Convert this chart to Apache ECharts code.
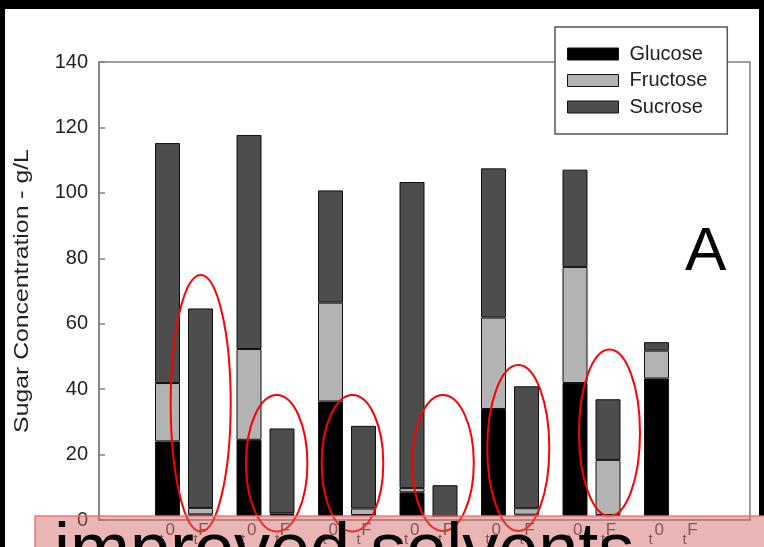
<!DOCTYPE html>
<html>
<head>
<meta charset="utf-8">
<script src="https://cdn.jsdelivr.net/npm/echarts@6/dist/echarts.min.js"></script>
<style>
  html, body { margin: 0; padding: 0; background: #fff; }
  #chart { width: 764px; height: 547px; }
</style>
</head>
<body>
<div id="chart"></div>
<script>
// Sugar composition of each sample, before (t0) and after (tF) treatment, in g/L
const samples = ['1', '2', '3', '4', '5', '6', '7'];
const stageLabels = ['t0', 'tF'];
const sugarNames = ['Glucose', 'Fructose', 'Sucrose'];

const glucoseT0  = [23.0, 23.5, 35.3, 7.3, 33.0, 41.0, 42.4];
const fructoseT0 = [18.0, 28.0, 30.5, 1.3, 28.2, 35.8, 8.6];
const sucroseT0  = [74.0, 66.0, 34.6, 94.4, 46.0, 30.0, 2.6];

const glucoseTF  = [0.5, 0.3, 0.3, 0, 0.4, 0.3, '-'];
const fructoseTF = [2.0, 0.5, 2.0, 0, 2.0, 17.0, '-'];
const sucroseTF  = [61.5, 26.2, 25.5, 9.5, 37.6, 18.7, '-'];

const yTicks = { min: 0, max: 140, step: 20 };

const sugarColors = { Glucose: '#000000', Fructose: '#b3b3b3', Sucrose: '#4d4d4d' };
const frameColor = '#808080';
const textFont = "'Liberation Sans', Arial, sans-serif";

function stackBar(name, stack, data) {
  return {
    name: name,
    type: 'bar',
    xAxisIndex: 1,
    yAxisIndex: 1,
    stack: stack,
    data: data,
    barWidth: 25,
    barGap: '32%',
    itemStyle: { color: sugarColors[name], borderColor: '#111', borderWidth: 1 },
    emphasis: { disabled: true }
  };
}

// "t" followed by a raised stage letter, one pair per sample
function stageFormatter() {
  return stageLabels.map(s => '{t|' + s.charAt(0) + '}{n|' + s.slice(1) + '}').join('{g|}');
}

const chart = echarts.init(document.getElementById('chart'), null, { renderer: 'canvas' });

const option = {
  animation: false,
  backgroundColor: '#ffffff',
  grid: [
    { left: 99, right: 14, top: 62, bottom: 27, show: true,
      borderColor: frameColor, borderWidth: 1.5, backgroundColor: 'transparent' },
    { left: 143.25, right: 50.25, top: 62, bottom: 27 }
  ],
  xAxis: [
    { gridIndex: 0, type: 'value', min: 0, max: 1, show: false },
    { gridIndex: 1, type: 'category', data: samples,
      axisLine: { show: false }, axisTick: { show: false },
      axisLabel: {
        interval: 0, margin: 6, color: '#444',
        formatter: stageFormatter,
        rich: {
          t: { fontSize: 15, fontFamily: textFont, color: '#444', width: 6, align: 'left', verticalAlign: 'bottom' },
          n: { fontSize: 17, fontFamily: textFont, color: '#444', width: 10, align: 'left', padding: [0, 0, 8, 0] },
          g: { width: 17 }
        }
      } }
  ],
  yAxis: [
    { gridIndex: 0, type: 'value', min: yTicks.min, max: yTicks.max, interval: yTicks.step,
      axisLine: { show: true, lineStyle: { color: frameColor, width: 1.5 } },
      axisTick: { show: true, inside: true, length: 6, lineStyle: { color: frameColor, width: 1.5 } },
      splitLine: { show: false },
      axisLabel: { fontSize: 20, color: '#222', margin: 11, fontFamily: textFont } },
    { gridIndex: 1, type: 'value', min: yTicks.min, max: yTicks.max, show: false }
  ],
  legend: {
    left: 555, top: 27, orient: 'vertical',
    data: sugarNames,
    icon: 'rect',
    itemWidth: 51, itemHeight: 12, itemGap: 6.5,
    backgroundColor: '#ffffff', borderColor: '#555', borderWidth: 1.5,
    padding: [17, 20, 17, 12],
    selectedMode: false,
    itemStyle: { borderColor: '#111', borderWidth: 1 },
    textStyle: { fontSize: 20, color: '#222', fontFamily: textFont, padding: [0, 0, 0, 6] }
  },
  series: [
    stackBar('Glucose', 't0', glucoseT0),
    stackBar('Fructose', 't0', fructoseT0),
    stackBar('Sucrose', 't0', sucroseT0),
    stackBar('Glucose', 'tF', glucoseTF),
    stackBar('Fructose', 'tF', fructoseTF),
    stackBar('Sucrose', 'tF', sucroseTF)
  ],
  graphic: [
    // axis title
    { type: 'text', x: 22, y: 291, rotation: Math.PI / 2, scaleX: 1.18, z: 5,
      style: { text: 'Sugar Concentration - g/L', font: '21px ' + textFont, fill: '#222',
               align: 'center', verticalAlign: 'middle' } },
    // panel letter
    { type: 'text', x: 685, y: 222, z: 5,
      style: { text: 'A', font: '62px ' + textFont, fill: '#000', align: 'left', verticalAlign: 'top' } },
    // red rings around the treated samples
    { type: 'ellipse', z: 10, shape: { cx: 200.7, cy: 403.3, rx: 30, ry: 128.3 },
      style: { fill: 'none', stroke: '#ff0000', lineWidth: 2 } },
    { type: 'ellipse', z: 10, shape: { cx: 276.7, cy: 463.3, rx: 30.7, ry: 68.3 },
      style: { fill: 'none', stroke: '#ff0000', lineWidth: 2 } },
    { type: 'ellipse', z: 10, shape: { cx: 352.5, cy: 463.3, rx: 30.8, ry: 68.3 },
      style: { fill: 'none', stroke: '#ff0000', lineWidth: 2 } },
    { type: 'ellipse', z: 10, shape: { cx: 443, cy: 463, rx: 30.8, ry: 68 },
      style: { fill: 'none', stroke: '#ff0000', lineWidth: 2 } },
    { type: 'ellipse', z: 10, shape: { cx: 518.3, cy: 448, rx: 31, ry: 83 },
      style: { fill: 'none', stroke: '#ff0000', lineWidth: 2 } },
    { type: 'ellipse', z: 10, shape: { cx: 609.5, cy: 432.7, rx: 30.5, ry: 83.3 },
      style: { fill: 'none', stroke: '#ff0000', lineWidth: 2 } },
    // dark picture edges
    { type: 'rect', z: 15, shape: { x: 0, y: 0, width: 764, height: 9 }, style: { fill: '#000' } },
    { type: 'rect', z: 15, shape: { x: 0, y: 0, width: 5, height: 547 }, style: { fill: '#000' } },
    { type: 'rect', z: 15, shape: { x: 759, y: 0, width: 5, height: 516 }, style: { fill: '#000' } },
    // caption banner
    { type: 'rect', z: 20, shape: { x: 35, y: 516, width: 740, height: 50 },
      style: { fill: 'rgba(210,100,100,0.48)', stroke: 'rgba(240,110,110,0.9)', lineWidth: 1.5 } },
    { type: 'text', x: 54, y: 517, z: 30,
      style: { text: 'improved solvents', font: '72px ' + textFont, fill: '#000',
               align: 'left', verticalAlign: 'top' } }
  ]
};

chart.setOption(option);
</script>
</body>
</html>
